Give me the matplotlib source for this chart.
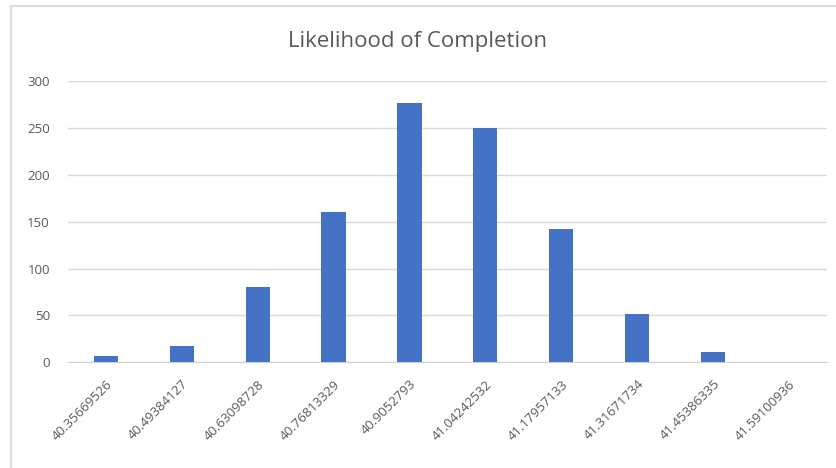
import matplotlib.pyplot as plt
from matplotlib.lines import Line2D

categories = ["40.35669526", "40.49384127", "40.63098728", "40.76813329", "40.9052793",
              "41.04242532", "41.17957133", "41.31671734", "41.45386335", "41.59100936"]
counts = [7, 17, 80, 160, 276, 250, 142, 52, 11, 0]
y_ticks = [0, 50, 100, 150, 200, 250, 300]

plt.rcParams['font.family'] = ['Open Sans', 'DejaVu Sans']

fig = plt.figure(figsize=(8.36, 4.68), dpi=100)
ax = fig.add_axes([0.0813, 0.2258, 0.9077, 0.6012])

x = range(len(categories))
ax.bar(x, counts, width=0.32, color='#4472c4', zorder=3)

ax.set_xlim(-0.5, len(categories) - 0.5)
ax.set_ylim(0, 300)
ax.set_yticks(y_ticks)
ax.set_yticklabels([str(t) for t in y_ticks], fontsize=9.5, color='#595959')
ax.set_xticks(list(x))
ax.set_xticklabels(categories, rotation=45, ha='right', rotation_mode='anchor',
                   fontsize=9.5, color='#595959')
ax.tick_params(axis='x', length=0, pad=11)
ax.tick_params(axis='y', length=0, pad=13)

ax.grid(axis='y', color='#d9d9d9', linewidth=1, zorder=0)
for s in ['top', 'right', 'left']:
    ax.spines[s].set_visible(False)
ax.spines['bottom'].set_color('#d0d0d0')

fig.text(0.5, 1 - 42 / 468, "Likelihood of Completion", ha='center', va='center',
         fontsize=16, color='#595959')

# outer chart frame
fig.add_artist(Line2D([11 / 836, 11 / 836], [0, 1 - 6 / 468], transform=fig.transFigure,
                      color='#dcdcdc', linewidth=1.5))
fig.add_artist(Line2D([11 / 836, 1], [1 - 6 / 468, 1 - 6 / 468], transform=fig.transFigure,
                      color='#dcdcdc', linewidth=1.5))

fig.savefig("out.png", dpi=100)
